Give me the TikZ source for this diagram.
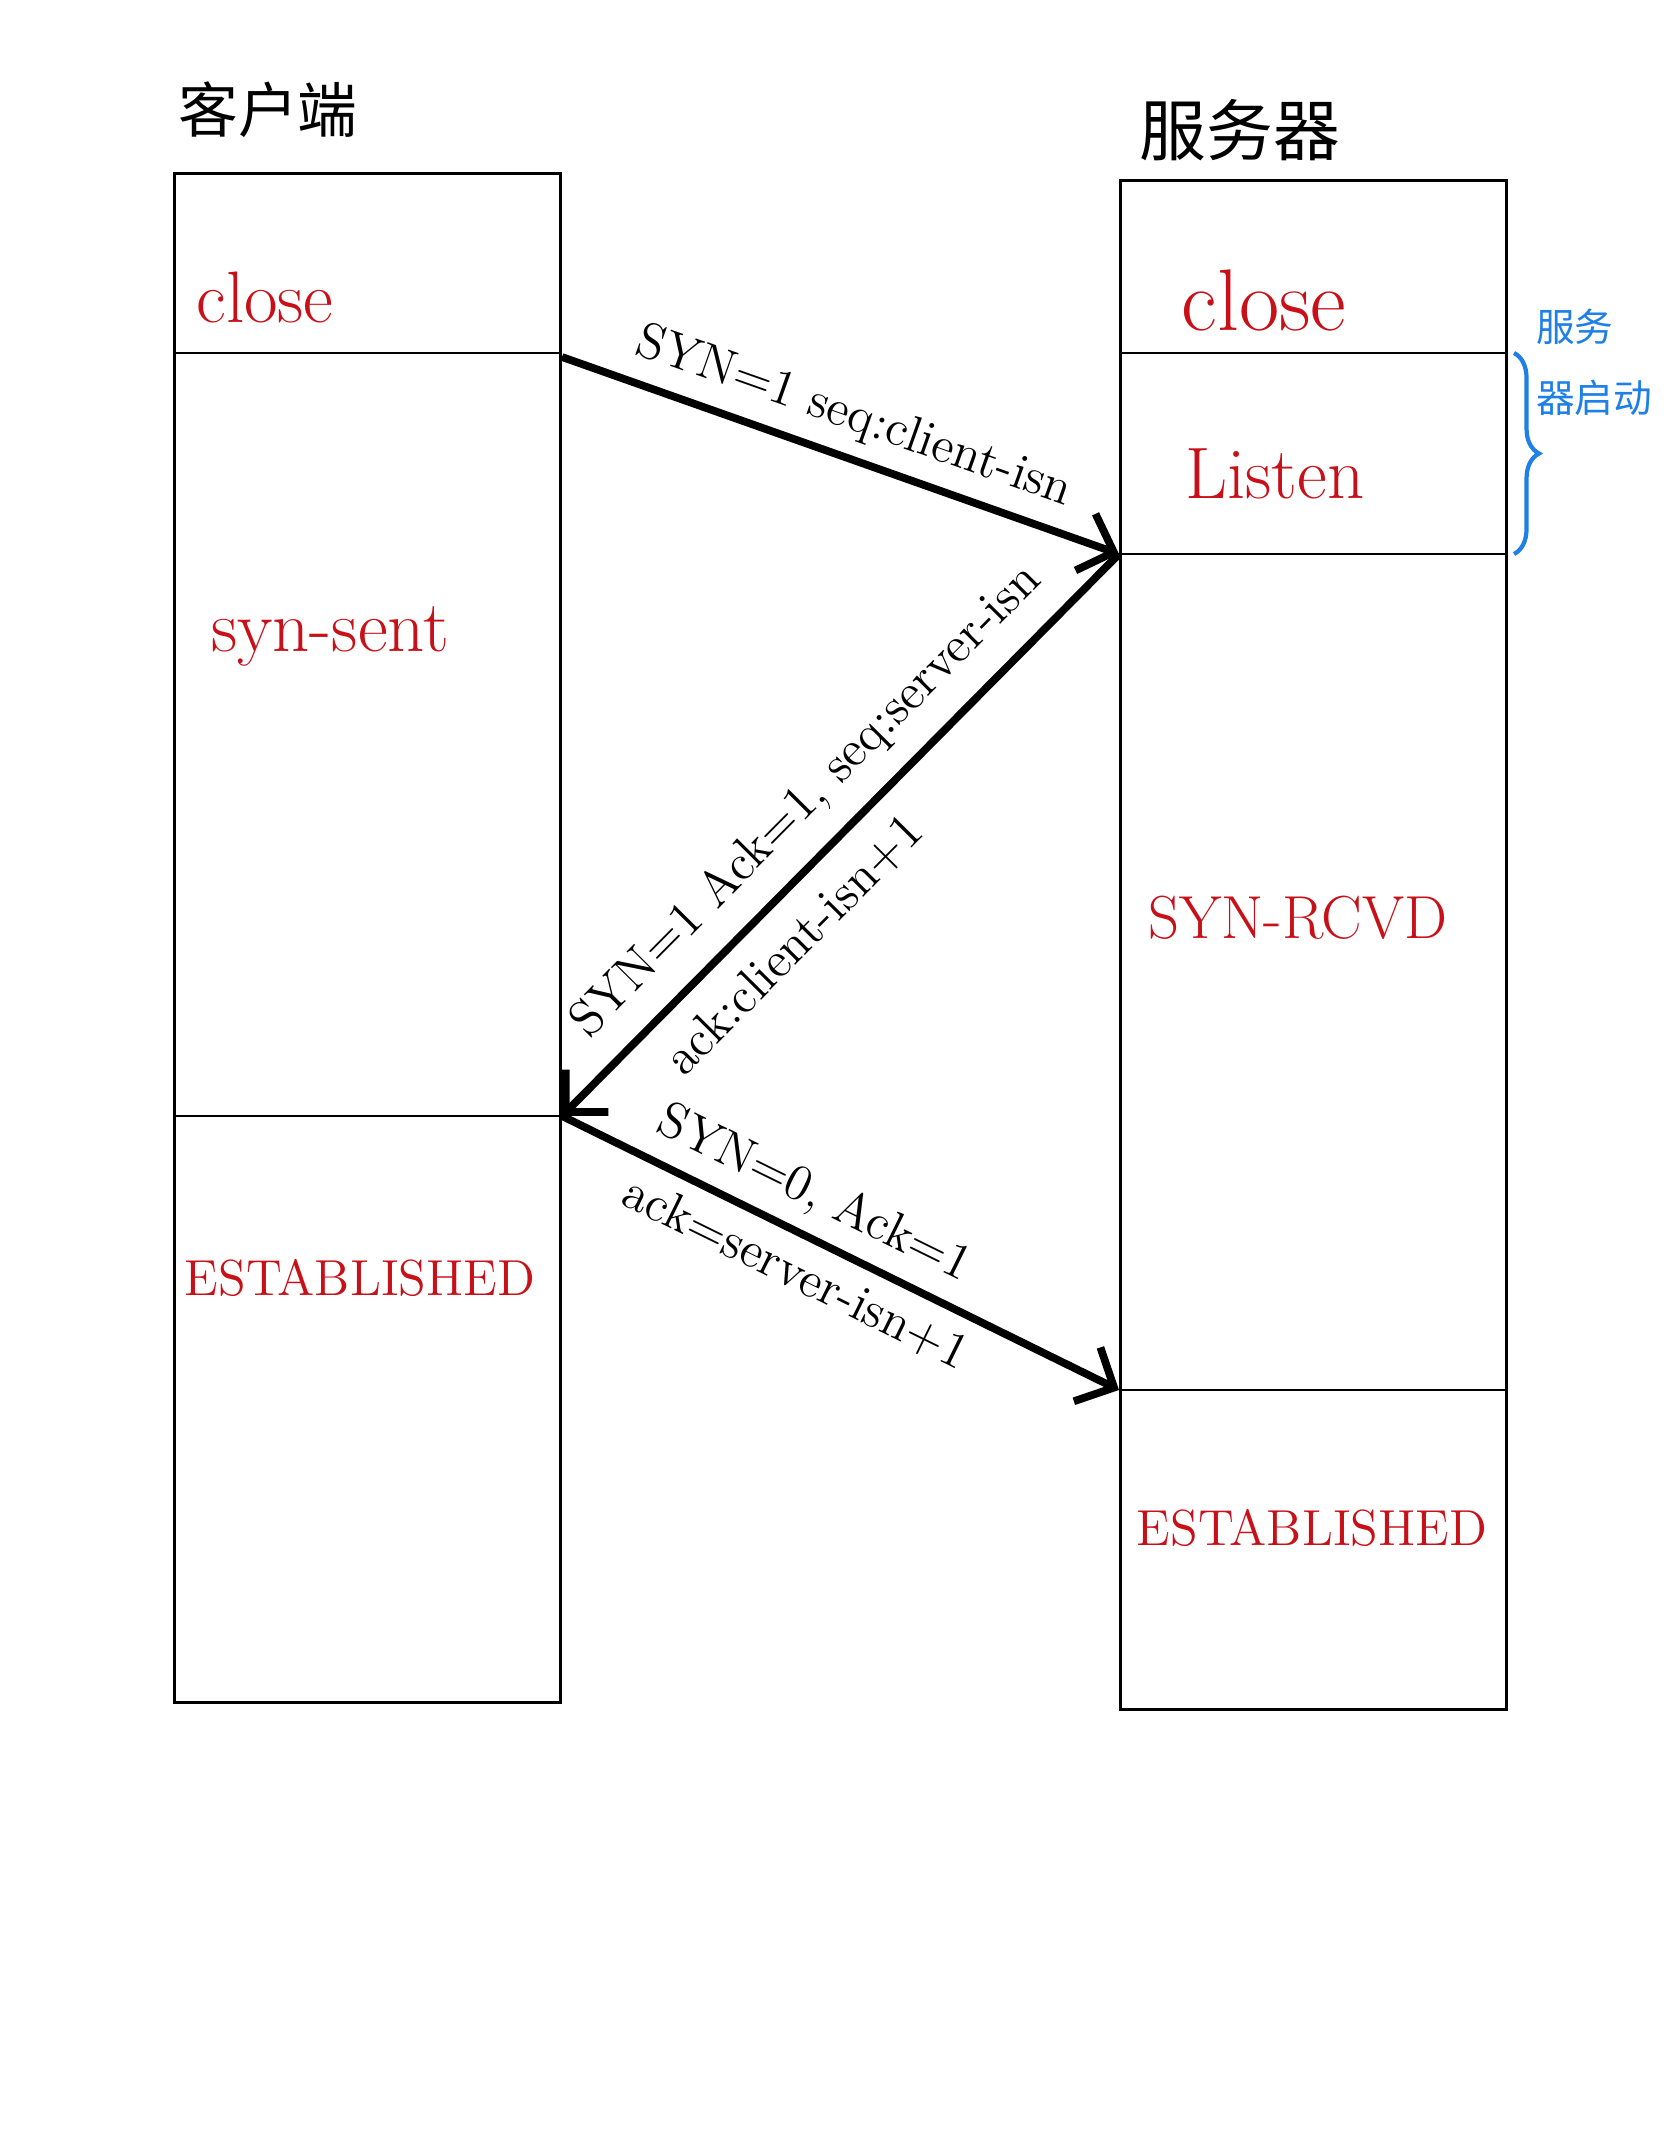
\documentclass[tikz,border=0pt]{standalone}
\usepackage{fontspec}
\newfontfamily\cjk{Noto Sans CJK SC}
\usetikzlibrary{arrows.meta,positioning,calc,decorations.pathreplacing}
\definecolor{statered}{RGB}{200,16,24}
\definecolor{noteblue}{RGB}{30,128,230}
\tikzset{
  col/.style={draw, line width=0.8pt, minimum width=3.86cm, minimum height=15.28cm, inner sep=0pt},
  div/.style={line width=0.8pt},
  state/.style={text=statered, inner sep=1pt},
  ttl/.style={inner sep=1pt},
  msg/.style={-{Straight Barb[length=3mm,width=6mm]}, line width=2.2pt},
  lbl/.style={font=\Large, sloped, inner sep=4pt},
}

\begin{document}
\begin{tikzpicture}[x=0.01cm,y=-0.01cm]
  \useasboundingbox (0,0) rectangle (1668,2154);
  % the two sides
  \node[ttl,font=\cjk\fontsize{17}{20}\selectfont] (cli) at (268,110) {客户端};
  \node[ttl,font=\cjk\fontsize{19}{22}\selectfont] (srv) at (1240,130) {服务器};
  \node[col] (client) at (367.5,938) {};
  \node[col] (server) at (1313.5,945) {};
  \draw[div] (client.west |- 0,353) -- (client.east |- 0,353);
  \draw[div] (client.west |- 0,1116) -- (client.east |- 0,1116);
  \draw[div] (server.west |- 0,353) -- (server.east |- 0,353);
  \draw[div] (server.west |- 0,554) -- (server.east |- 0,554);
  \draw[div] (server.west |- 0,1390) -- (server.east |- 0,1390);
  % states
  \node[state,font=\huge] (cclose) at (265,297) {close};
  \node[state,font=\huge] (csent) at (330,636) {syn-sent};
  \node[state,font=\Large] (cest) at (360,1278) {ESTABLISHED};
  \node[state,font=\Huge] (sclose) at (1264,300) {close};
  \node[state,font=\huge] (slisten) at (1275,474) {Listen};
  \node[state,font=\LARGE] (srcvd) at (1298,918) {SYN-RCVD};
  \node[state,font=\Large] (sest) at (1312,1528) {ESTABLISHED};
  % handshake
  \coordinate (synout) at (client.east |- 0,357);
  \coordinate (synin) at (server.west |- 0,554);
  \coordinate (ackin) at (client.east |- 0,1116);
  \coordinate (estin) at (server.west |- 0,1390);
  \draw[msg] (synout) -- node[lbl,above,pos=0.5] {SYN=1 seq:client-isn} (synin);
  \draw[msg] (synin) -- node[lbl,above,pos=0.5,inner sep=6pt] {SYN=1 Ack=1, seq:server-isn}
    node[lbl,below,pos=0.64,inner sep=6pt] {ack:client-isn+1} (ackin);
  \draw[msg] (ackin) -- node[lbl,above,pos=0.42] {SYN=0, Ack=1}
    node[lbl,below,pos=0.45] {ack=server-isn+1} (estin);
  % server start note
  \coordinate (bt) at ($(server.east |- 0,353)+(6,0)$);
  \coordinate (bb) at ($(server.east |- 0,554)+(6,0)$);
  \draw[noteblue, line width=1.2pt, decoration={brace,amplitude=0.25cm}, decorate] (bt) -- (bb);
  \node[text=noteblue, font=\cjk\fontsize{11}{20}\selectfont, align=left, anchor=north west, inner sep=1pt] (note) at (1532,305) {服务\\器启动};
\end{tikzpicture}
\end{document}
